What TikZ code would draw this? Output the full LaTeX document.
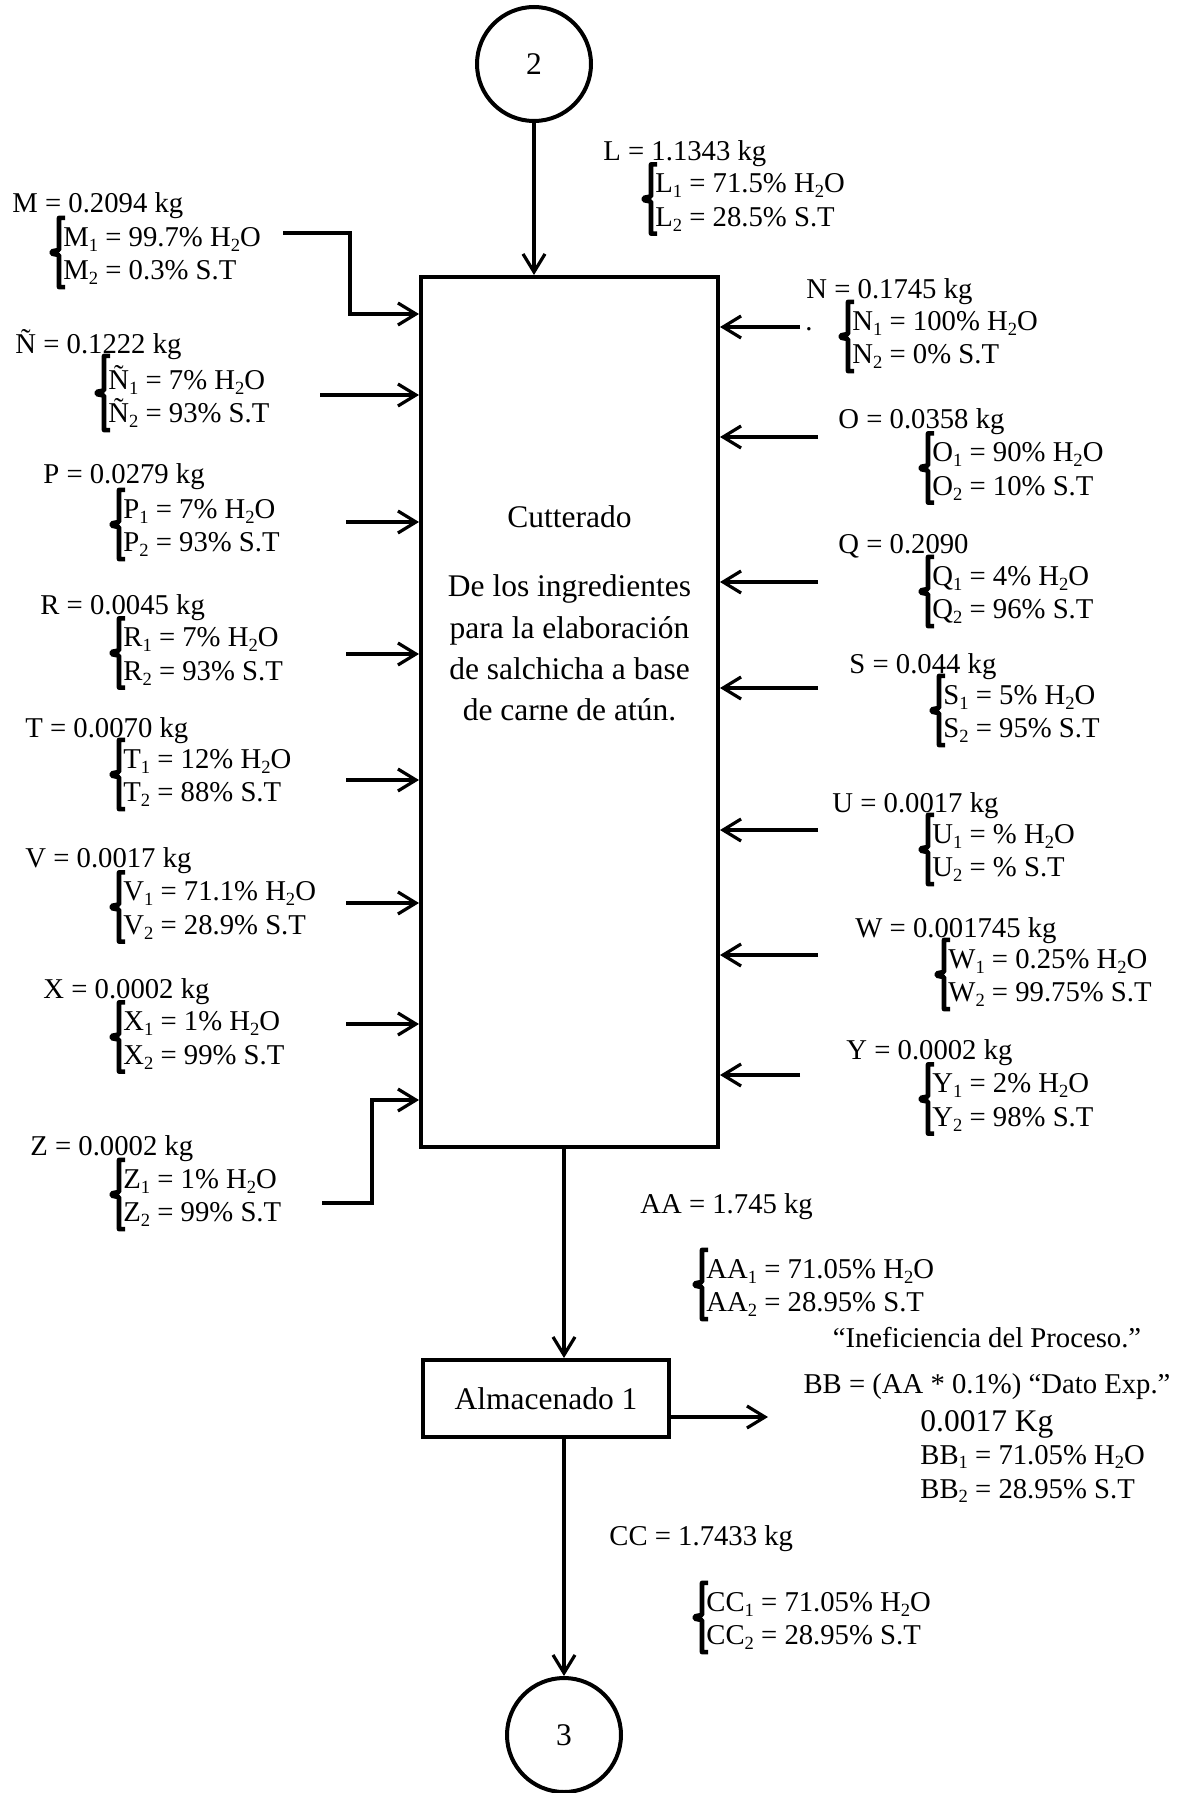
\documentclass[tikz,border=0pt]{standalone}
\usepackage{fontspec}
\setmainfont{Liberation Serif}
\usetikzlibrary{arrows.meta,calc}
\newcommand\sbs[1]{\raisebox{-2.4pt}{\fontsize{9.3pt}{9.3pt}\selectfont #1}}
\newcommand\wat{H\sbs{2}O}
\newcommand\brc[1]{%
  \coordinate (bT) at ([yshift=4.5pt]#1.north west);
  \coordinate (bB) at ([yshift=-1pt]#1.south west);
  \coordinate (bM) at ($(bT)!0.5!(bB)$);
  \draw[brcstyle] ([xshift=1pt]bT) -- ([xshift=-2pt]bT) -- ([xshift=-2pt,yshift=1.3pt]bM) -- ([xshift=-5.5pt,yshift=0.6pt]bM) -- ([xshift=-5.5pt,yshift=-0.6pt]bM) -- ([xshift=-2pt,yshift=-1.3pt]bM) -- ([xshift=-2pt]bB) -- ([xshift=1pt]bB);}
\begin{document}
\begin{tikzpicture}[x=0.5pt,y=-0.5pt,
  lbl/.style={inner sep=0pt, font=\fontsize{14.35pt}{16.75pt}\selectfont, anchor=base west},
  blk/.style={inner sep=0pt, font=\fontsize{14.35pt}{16.75pt}\selectfont, anchor=west, align=left},
  big/.style={inner sep=0pt, font=\fontsize{15.75pt}{20.6pt}\selectfont},
  arr/.style={line width=1.8pt, -{Straight Barb[length=9pt,width=11pt,line width=1.6pt]}},
  brcstyle/.style={line width=2.3pt, line join=round},
  boxst/.style={draw, line width=2pt, inner sep=0pt},
  conn/.style={draw, circle, line width=2pt, minimum size=57pt, inner sep=0pt, font=\fontsize{15.75pt}{18pt}\selectfont}]
\useasboundingbox (0,0) rectangle (1182,1793);

% main nodes
\node[conn] (c2) at (534,64) {2};
\node[conn] (c3) at (564,1735) {3};
\node[boxst, minimum width=148.5pt, minimum height=435pt] (cut) at (569.5,712) {};
\node[big] (cutt) at (569.5,517) {Cutterado};
\node[big, align=center] (cutd) at (569.5,648) {De los ingredientes\\para la elaboración\\de salchicha a base\\de carne de atún.};
\node[boxst, minimum width=123pt, minimum height=38.5pt, font=\fontsize{15.75pt}{18pt}\selectfont] (alm) at (546,1398.5) {Almacenado 1};

% main flow
\draw[arr] (c2.south) -- (c2.south |- cut.north);
\draw[arr] (cut.south -| c3) -- (alm.north -| c3);
\draw[arr] (alm.south -| c3) -- (c3.north);
\coordinate (bbend) at (768,1417);
\draw[arr] (alm.east |- bbend) -- (bbend);

% L
\node[lbl] (Lh) at (603,161) {L = 1.1343 kg};
\node[blk] (Lb) at (655,202.5) {L\sbs{1} = 71.5\% \wat\\L\sbs{2} = 28.5\% S.T};
\brc{Lb}

% M
\node[lbl] (Mh) at (12,213) {M = 0.2094 kg};
\node[blk] (Mb) at (63,256) {M\sbs{1} = 99.7\% \wat\\M\sbs{2} = 0.3\% S.T};
\brc{Mb}
\coordinate (Ms) at (283,233);
\coordinate (Mk) at (350,314);
\draw[arr] (Ms) -| (Mk) -- (Mk -| cut.west);

% Ñ
\node[lbl] (NNh) at (15,353) {Ñ = 0.1222 kg};
\node[blk] (NNb) at (108,396.5) {Ñ\sbs{1} = 7\% \wat\\Ñ\sbs{2} = 93\% S.T};
\brc{NNb}
\coordinate (NNs) at (320,395);
\draw[arr] (NNs) -- (NNs -| cut.west);

% P
\node[lbl] (Ph) at (43,483) {P = 0.0279 kg};
\node[blk] (Pb) at (123,528) {P\sbs{1} = 7\% \wat\\P\sbs{2} = 93\% S.T};
\brc{Pb}
\coordinate (Ps) at (346,522);
\draw[arr] (Ps) -- (Ps -| cut.west);

% R
\node[lbl] (Rh) at (40,614) {R = 0.0045 kg};
\node[blk] (Rb) at (123,656.5) {R\sbs{1} = 7\% \wat\\R\sbs{2} = 93\% S.T};
\brc{Rb}
\coordinate (Rs) at (346,654);
\draw[arr] (Rs) -- (Rs -| cut.west);

% T
\node[lbl] (Th) at (25,737) {T = 0.0070 kg};
\node[blk] (Tb) at (123,778) {T\sbs{1} = 12\% \wat\\T\sbs{2} = 88\% S.T};
\brc{Tb}
\coordinate (Ts) at (346,780);
\draw[arr] (Ts) -- (Ts -| cut.west);

% V
\node[lbl] (Vh) at (25,867) {V = 0.0017 kg};
\node[blk] (Vb) at (123,910.5) {V\sbs{1} = 71.1\% \wat\\V\sbs{2} = 28.9\% S.T};
\brc{Vb}
\coordinate (Vs) at (346,903);
\draw[arr] (Vs) -- (Vs -| cut.west);

% X
\node[lbl] (Xh) at (43,998) {X = 0.0002 kg};
\node[blk] (Xb) at (123,1040.5) {X\sbs{1} = 1\% \wat\\X\sbs{2} = 99\% S.T};
\brc{Xb}
\coordinate (Xs) at (346,1024);
\draw[arr] (Xs) -- (Xs -| cut.west);

% Z
\node[lbl] (Zh) at (30,1155) {Z = 0.0002 kg};
\node[blk] (Zb) at (123,1198) {Z\sbs{1} = 1\% \wat\\Z\sbs{2} = 99\% S.T};
\brc{Zb}
\coordinate (Zs) at (322,1203);
\coordinate (Zk) at (372,1100);
\draw[arr] (Zs) -| (Zk) -- (Zk -| cut.west);

% N
\node[lbl] (Nh) at (806,298) {N = 0.1745 kg};
\node[lbl] (Ndot) at (805,330) {.};
\node[blk] (Nb) at (852,340) {N\sbs{1} = 100\% \wat\\N\sbs{2} = 0\% S.T};
\brc{Nb}
\coordinate (Ns) at (800,327);
\draw[arr] (Ns) -- (Ns -| cut.east);

% O
\node[lbl] (Oh) at (838,428) {O = 0.0358 kg};
\node[blk] (Ob) at (932,471.5) {O\sbs{1} = 90\% \wat\\O\sbs{2} = 10\% S.T};
\brc{Ob}
\coordinate (Os) at (818,437);
\draw[arr] (Os) -- (Os -| cut.east);

% Q
\node[lbl] (Qh) at (838,553) {Q = 0.2090};
\node[blk] (Qb) at (932,595) {Q\sbs{1} = 4\% \wat\\Q\sbs{2} = 96\% S.T};
\brc{Qb}
\coordinate (Qs) at (818,582);
\draw[arr] (Qs) -- (Qs -| cut.east);

% S
\node[lbl] (Sh) at (849,673) {S = 0.044 kg};
\node[blk] (Sb) at (943,714) {S\sbs{1} = 5\% \wat\\S\sbs{2} = 95\% S.T};
\brc{Sb}
\coordinate (Ss) at (818,688);
\draw[arr] (Ss) -- (Ss -| cut.east);

% U
\node[lbl] (Uh) at (832,812) {U = 0.0017 kg};
\node[blk] (Ub) at (932,853) {U\sbs{1} = \% \wat\\U\sbs{2} = \% S.T};
\brc{Ub}
\coordinate (Us) at (818,830);
\draw[arr] (Us) -- (Us -| cut.east);

% W
\node[lbl] (Wh) at (855,937) {W = 0.001745 kg};
\node[blk] (Wb) at (948,978) {W\sbs{1} = 0.25\% \wat\\W\sbs{2} = 99.75\% S.T};
\brc{Wb}
\coordinate (Ws) at (818,955);
\draw[arr] (Ws) -- (Ws -| cut.east);

% Y
\node[lbl] (Yh) at (846,1059) {Y = 0.0002 kg};
\node[blk] (Yb) at (932,1102.5) {Y\sbs{1} = 2\% \wat\\Y\sbs{2} = 98\% S.T};
\brc{Yb}
\coordinate (Ys) at (800,1075);
\draw[arr] (Ys) -- (Ys -| cut.east);

% AA
\node[lbl] (AAh) at (640,1213) {AA = 1.745 kg};
\node[blk] (AAb) at (706,1288) {AA\sbs{1} = 71.05\% \wat\\AA\sbs{2} = 28.95\% S.T};
\brc{AAb}

% BB
\node[lbl, anchor=base] (BBt) at (987,1347) {“Ineficiencia del Proceso.”};
\node[lbl, anchor=base] (BBh) at (987,1393) {BB = (AA * 0.1\%) “Dato Exp.”};
\node[lbl, font=\fontsize{15.75pt}{18pt}\selectfont] (BBk) at (920,1431) {0.0017 Kg};
\node[lbl] (BB1) at (920,1464) {BB\sbs{1} = 71.05\% \wat};
\node[lbl] (BB2) at (920,1498) {BB\sbs{2} = 28.95\% S.T};

% CC
\node[lbl] (CCh) at (609,1545) {CC = 1.7433 kg};
\node[blk] (CCb) at (706,1621) {CC\sbs{1} = 71.05\% \wat\\CC\sbs{2} = 28.95\% S.T};
\brc{CCb}
\end{tikzpicture}
\end{document}
